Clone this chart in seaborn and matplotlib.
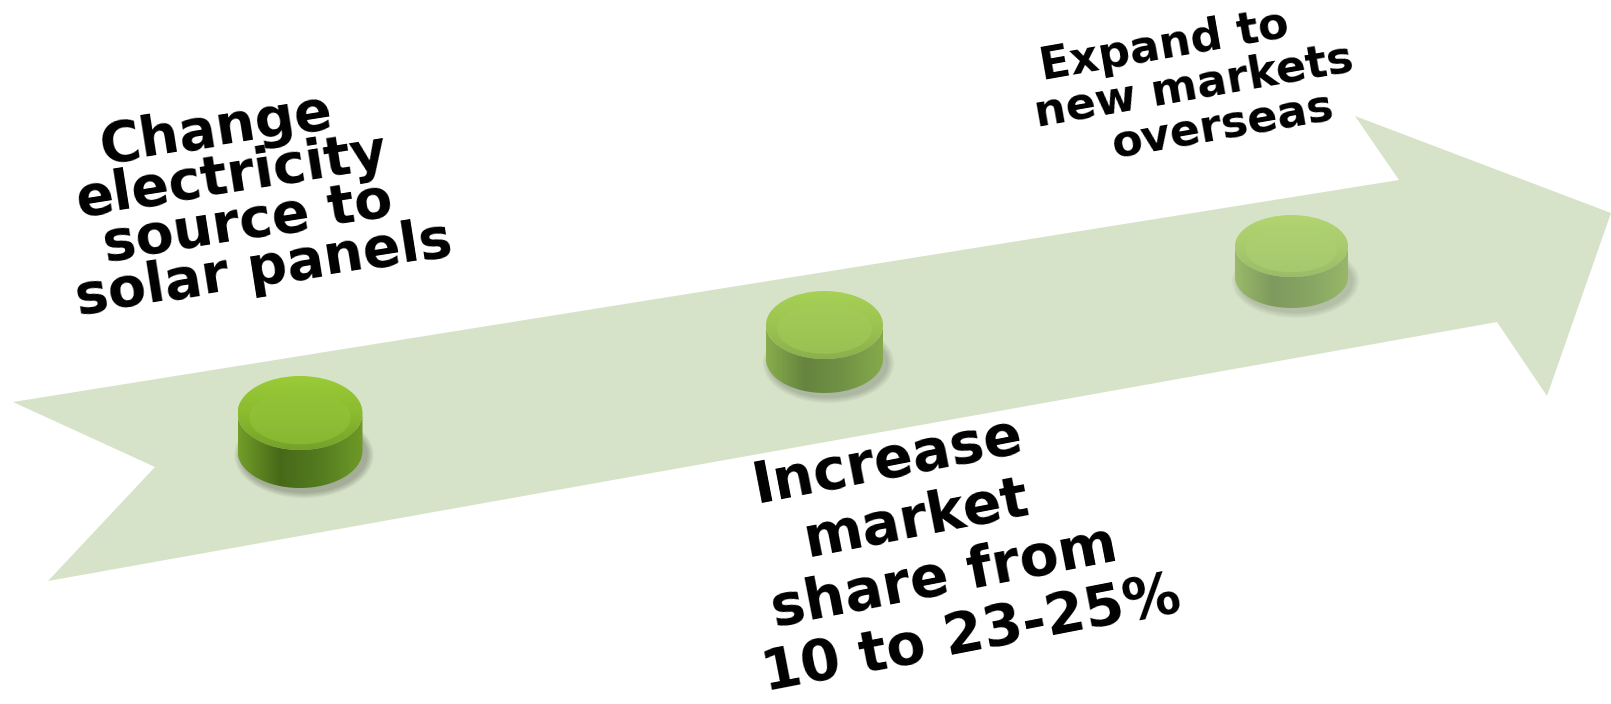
import numpy as np
import matplotlib
matplotlib.use("Agg")
import matplotlib.pyplot as plt
import seaborn as sns
from matplotlib.patches import Polygon, Ellipse
from matplotlib.colors import LinearSegmentedColormap, to_rgb

# ---------------- data ----------------
milestones = [
    "Change\nelectricity\nsource to\nsolar panels",
    "Increase\nmarket\nshare from\n10 to 23-25%",
    "Expand to\nnew markets\noverseas",
]
stage = [1, 2, 3]

# ---------------- style / layout ----------------
sns.set_theme(style="white")
plt.rcParams["font.family"] = ["DejaVu Sans"]

W, H = 1611, 704
fig = plt.figure(figsize=(W / 100, H / 100), dpi=100)
ax = fig.add_axes([0, 0, 1, 1])
ax.set_xlim(0, W)
ax.set_ylim(H, 0)
ax.axis("off")

arrow_color = "#d6e3c8"
arrow_pts = [(13, 402), (1399, 180), (1355, 116), (1611, 213),
             (1547, 396), (1497, 322), (48, 581), (155, 467)]
ax.add_patch(Polygon(arrow_pts, closed=True, fc=arrow_color, ec="none", zorder=1))

# puck geometry per stage: centre of top face, semi axes, side height
puck_layout = {1: (300, 413, 62.5, 37, 38),
               2: (824.5, 325, 58.5, 34, 34),
               3: (1291.5, 246, 56.5, 31, 31)}
# fading of pucks into arrow colour
fade = {1: 1.0, 2: 0.78, 3: 0.6}

side_base = ["#729e29", "#466918", "#547c20", "#6e9a28"]
top_base = ["#9acb37", "#8bbb2f", "#74a229"]
inner_base = "#93c43a"


def mix(c, t):
    c = np.array(to_rgb(c))
    b = np.array(to_rgb(arrow_color))
    return tuple(t * c + (1 - t) * b)


text_layout = {1: ((216, 130), (16, 46.5), 9, 40),
               2: ((888, 462), (28, 58), 11, 41),
               3: ((1164, 46), (29.5, 40.5), 10, 32)}

for st, label in zip(stage, milestones):
    cx, cy, a, b, s = puck_layout[st]
    t = fade[st]
    # soft shadow
    for k in range(5):
        ax.add_patch(Ellipse((cx + 4, cy + s + 4), 2 * a + 2 + 3 * k, 2 * b + 2 + 2.5 * k,
                             fc="black", ec="none", alpha=0.05 * t, zorder=2))
    # side of cylinder
    th = np.linspace(np.pi, 0, 80)
    bx = cx + a * np.cos(th)
    by = cy + s + b * np.sin(th)
    th2 = np.linspace(0, np.pi, 80)
    tx = cx + a * np.cos(th2)
    ty = cy + b * np.sin(th2)
    side = Polygon(np.column_stack([np.r_[bx, tx], np.r_[by, ty]]), closed=True,
                   fc="none", ec="none", zorder=3)
    ax.add_patch(side)
    cmap_side = LinearSegmentedColormap.from_list(
        "side%d" % st, [mix(c, t) for c in side_base])
    im = ax.imshow(np.linspace(0, 1, 200)[None, :], cmap=cmap_side, aspect="auto",
                   extent=[cx - a, cx + a, cy + s + b, cy - b], zorder=3,
                   interpolation="bicubic")
    im.set_clip_path(side)
    # top face
    top = Ellipse((cx, cy), 2 * a, 2 * b, fc="none", ec="none", zorder=4)
    ax.add_patch(top)
    cmap_top = LinearSegmentedColormap.from_list(
        "top%d" % st, [mix(c, t) for c in top_base])
    im2 = ax.imshow(np.linspace(0, 1, 200)[:, None], cmap=cmap_top, aspect="auto",
                    extent=[cx - a, cx + a, cy + b, cy - b], zorder=4,
                    interpolation="bicubic")
    im2.set_clip_path(top)
    ax.add_patch(Ellipse((cx, cy + 0.12 * b), 1.62 * a, 1.45 * b,
                         fc=mix(inner_base, t), ec="none", alpha=0.6, zorder=5))
    # label lines
    (x0, y0), (dx, dy), rot, size = text_layout[st]
    for i, line in enumerate(label.split("\n")):
        ax.text(x0 + i * dx, y0 + i * dy, line, ha="center", va="center",
                rotation=rot, rotation_mode="anchor", fontsize=size,
                fontweight="bold", color="black", zorder=6)

ax.set_xlim(0, W)
ax.set_ylim(H, 0)
fig.savefig("out.png", dpi=100, facecolor="white")
